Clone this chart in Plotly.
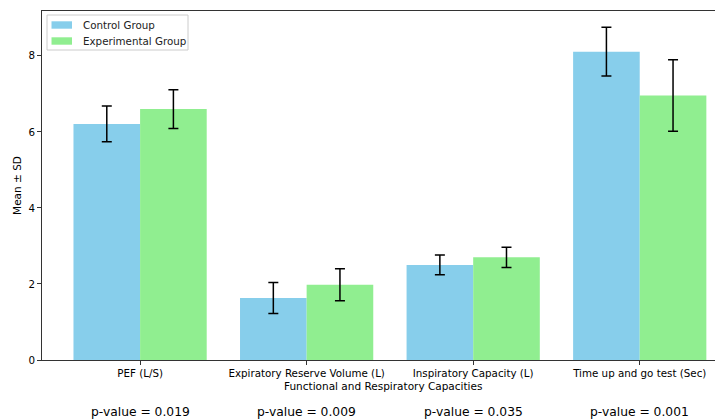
import plotly.graph_objects as go

categories = ["PEF (L/S)", "Expiratory Reserve Volume (L)", "Inspiratory Capacity (L)", "Time up and go test (Sec)"]
control_mean = [6.21, 1.63, 2.50, 8.11]
control_sd = [0.47, 0.41, 0.26, 0.64]
exp_mean = [6.60, 1.98, 2.70, 6.96]
exp_sd = [0.51, 0.42, 0.265, 0.94]
p_values = ["p-value = 0.019", "p-value = 0.009", "p-value = 0.035", "p-value = 0.001"]
series_names = ["Control Group", "Experimental Group"]
series_colors = ["#87CEEB", "#90EE90"]

FONT = "DejaVu Sans"
x_idx = list(range(len(categories)))

fig = go.Figure()
for name, color, means, sds in zip(series_names, series_colors, [control_mean, exp_mean], [control_sd, exp_sd]):
    fig.add_trace(go.Bar(
        x=x_idx, y=means, name=name, marker_color=color, marker_line_width=0,
        error_y=dict(type="data", array=sds, color="black", thickness=1.5, width=5),
    ))

# plot-area pixel geometry (relative to plot origin) for the manual legend
PW, PH = 681.0, 349.0
def px(x):
    return x / PW
def py(y):
    return 1 - y / PH

shapes = [dict(type="rect", xref="paper", yref="paper", x0=px(5), x1=px(146), y0=py(4), y1=py(39),
               fillcolor="rgba(255,255,255,0.8)", line=dict(color="#cccccc", width=1), layer="above")]
annotations = []
for k, (name, color) in enumerate(zip(series_names, series_colors)):
    yc = 14 + 16 * k
    shapes.append(dict(type="rect", xref="paper", yref="paper", x0=px(9.5), x1=px(30), y0=py(yc - 3.7), y1=py(yc + 3.7),
                       fillcolor=color, line=dict(width=0), layer="above"))
    annotations.append(dict(x=px(39), y=py(yc), xref="paper", yref="paper", text=name, showarrow=False,
                            xanchor="left", yanchor="middle", font=dict(family=FONT, size=10.3, color="#222222")))

for i, p in enumerate(p_values):
    annotations.append(dict(x=i, y=-0.149, xref="x", yref="paper", text=p, showarrow=False,
                            font=dict(family=FONT, size=12.3, color="black"), yanchor="middle"))
annotations.append(dict(x=0.5, y=-0.0745, xref="paper", yref="paper",
                        text="Functional and Respiratory Capacities", showarrow=False,
                        font=dict(family=FONT, size=10.5, color="black"), yanchor="middle", xanchor="center"))

fig.update_layout(
    width=715, height=412,
    margin=dict(l=34, r=0, t=3, b=60),
    paper_bgcolor="white", plot_bgcolor="white",
    barmode="group", bargap=0.2, bargroupgap=0,
    font=dict(family=FONT, size=10.3, color="black"),
    showlegend=False,
    xaxis=dict(range=[-0.589, 3.50], tickvals=x_idx, ticktext=categories, showgrid=False,
               zeroline=False, showline=True, linecolor="#333333", linewidth=1, mirror=True,
               ticks="outside", ticklen=4, tickcolor="#333333"),
    yaxis=dict(range=[0, 9.18], tickvals=[0, 2, 4, 6, 8], showgrid=False, zeroline=False,
               showline=True, linecolor="#333333", linewidth=1,
               ticks="outside", ticklen=4, tickcolor="#333333",
               title=dict(text="Mean ± SD", font=dict(family=FONT, size=10.5), standoff=4)),
    shapes=shapes,
    annotations=annotations,
)

fig.write_html("out.html")
